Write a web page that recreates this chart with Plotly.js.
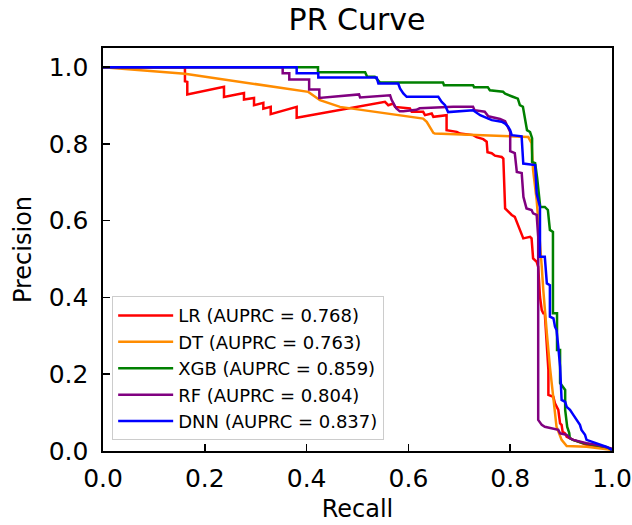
<!DOCTYPE html>
<html>
<head>
<meta charset="utf-8">
<script src="https://cdn.plot.ly/plotly-3.0.1.min.js"></script>
<style>html,body{margin:0;padding:0;background:#fff;}#chart{width:632px;height:525px;}</style>
</head>
<body>
<div id="chart"></div>
<script>
// Series names and labels
const seriesNames = ["LR (AUPRC = 0.768)", "DT (AUPRC = 0.763)", "XGB (AUPRC = 0.859)", "RF (AUPRC = 0.804)", "DNN (AUPRC = 0.837)"];
const seriesColors = ["#ff0000", "#ff8c00", "#008000", "#800080", "#0000ff"];
const tickValues = [0.0, 0.2, 0.4, 0.6, 0.8, 1.0];

// LR
const lrRecall = [0,0.161,0.161,0.1656,0.1656,0.2377,0.2377,0.277,0.277,0.2967,0.2967,0.315,0.315,0.3295,0.3295,0.3805,0.3805,0.505,0.554,0.5605,0.570,0.5737,0.603,0.6065,0.629,0.6326,0.6458,0.649,0.675,0.675,0.695,0.7014,0.7275,0.734,0.747,0.7538,0.7554,0.7637,0.770,0.7833,0.7865,0.790,0.796,0.803,0.809,0.8127,0.816,0.819,0.8226,0.8257,0.839,0.842,0.845,0.852,0.855,0.8585,0.862,0.865,0.868,0.872,0.875,0.875,0.8847,0.888,0.8945,0.898,0.901,0.903,0.9077,0.911,0.924,0.950,0.976,1.0];
const lrPrecision = [1,1,0.9635,0.9617,0.9289,0.9487,0.9227,0.933,0.916,0.920,0.901,0.907,0.892,0.8966,0.8776,0.8966,0.868,0.899,0.9096,0.901,0.9055,0.8966,0.8924,0.8836,0.8836,0.875,0.8794,0.8706,0.875,0.836,0.8315,0.827,0.823,0.8177,0.8125,0.806,0.7786,0.776,0.7695,0.766,0.762,0.632,0.623,0.615,0.610,0.597,0.5885,0.5755,0.5625,0.554,0.558,0.554,0.502,0.493,0.480,0.402,0.367,0.3586,0.3586,0.2805,0.211,0.146,0.1414,0.124,0.107,0.072,0.068,0.050,0.046,0.037,0.029,0.016,0.011,0.004];

// DT
const dtRecall = [0,0.161,0.4034,0.4263,0.4656,0.629,0.636,0.649,0.652,0.793,0.8356,0.842,0.845,0.852,0.8585,0.862,0.865,0.868,0.872,0.878,0.885,0.891,0.901,0.911,0.950,0.976,1.0];
const dtPrecision = [1,0.983,0.9357,0.914,0.8966,0.866,0.8576,0.829,0.827,0.821,0.818,0.802,0.732,0.654,0.549,0.480,0.419,0.367,0.3065,0.2195,0.133,0.063,0.029,0.013,0.011,0.007,0.003];

// XGB
const xgbRecall = [0,0.4224,0.4224,0.515,0.519,0.534,0.5445,0.668,0.670,0.727,0.729,0.756,0.760,0.786,0.790,0.796,0.805,0.815,0.819,0.825,0.829,0.833,0.839,0.843,0.843,0.849,0.853,0.859,0.868,0.874,0.878,0.884,0.884,0.892,0.892,0.898,0.898,0.904,0.908,0.908,0.912,0.916,0.917,0.923,0.943,0.990,1.0];
const xgbPrecision = [1,1,0.987,0.987,0.975,0.975,0.960,0.960,0.953,0.953,0.948,0.948,0.940,0.936,0.931,0.927,0.923,0.918,0.901,0.897,0.871,0.836,0.831,0.815,0.753,0.750,0.711,0.636,0.636,0.628,0.576,0.571,0.359,0.359,0.263,0.263,0.177,0.167,0.159,0.107,0.0625,0.047,0.034,0.029,0.021,0.010,0.003];

// RF
const rfRecall = [0,0.353,0.353,0.366,0.366,0.405,0.405,0.425,0.425,0.503,0.505,0.564,0.567,0.572,0.576,0.583,0.590,0.616,0.622,0.688,0.727,0.730,0.750,0.757,0.780,0.790,0.796,0.800,0.800,0.809,0.813,0.8226,0.826,0.832,0.842,0.845,0.852,0.855,0.855,0.862,0.868,0.885,0.8945,0.898,0.911,0.9175,0.924,0.950,0.970,0.998,1.0];
const rfPrecision = [1,1,0.984,0.984,0.968,0.968,0.942,0.942,0.920,0.929,0.921,0.927,0.915,0.902,0.893,0.885,0.885,0.889,0.893,0.897,0.897,0.888,0.884,0.872,0.865,0.859,0.841,0.831,0.781,0.776,0.727,0.724,0.662,0.632,0.628,0.619,0.615,0.558,0.081,0.068,0.063,0.059,0.055,0.046,0.042,0.033,0.029,0.020,0.016,0.007,0.003];

// DNN
const dnnRecall = [0,0.3805,0.3805,0.423,0.423,0.5377,0.541,0.580,0.5835,0.590,0.5966,0.6587,0.6654,0.672,0.675,0.678,0.727,0.741,0.757,0.764,0.783,0.790,0.796,0.800,0.803,0.8224,0.8257,0.849,0.852,0.8585,0.8585,0.868,0.872,0.878,0.878,0.885,0.888,0.891,0.8945,0.898,0.901,0.908,0.911,0.9175,0.924,0.9306,0.937,0.940,0.947,0.950,0.960,0.970,0.976,0.9895,1.0];
const dnnPrecision = [1,1,0.984,0.984,0.973,0.973,0.9575,0.9575,0.9445,0.9315,0.9227,0.9227,0.9096,0.901,0.892,0.883,0.888,0.875,0.866,0.862,0.858,0.853,0.845,0.836,0.823,0.820,0.749,0.745,0.671,0.636,0.506,0.506,0.4367,0.432,0.350,0.3456,0.324,0.315,0.2716,0.2195,0.133,0.128,0.115,0.107,0.094,0.081,0.068,0.055,0.042,0.029,0.024,0.020,0.016,0.011,0.003];

const xs = [lrRecall, dtRecall, xgbRecall, rfRecall, dnnRecall];
const ys = [lrPrecision, dtPrecision, xgbPrecision, rfPrecision, dnnPrecision];

const FONT = "DejaVu Sans, Verdana, sans-serif";
const traces = seriesNames.map((n, i) => ({
  type: "scatter", mode: "lines", name: n, x: xs[i], y: ys[i],
  line: {color: seriesColors[i], width: 2.5},
  legendgroup: "g" + i
}));

const axisCommon = {
  showgrid: false, zeroline: false, showline: true, mirror: true,
  linecolor: "#000", linewidth: 1.6, ticks: "inside", ticklen: 7, tickwidth: 1.5,
  tickcolor: "#000", tickvals: tickValues, tickformat: ".1f",
  tickfont: {family: FONT, size: 25, color: "#000"}
};

const layout = {
  width: 632, height: 525,
  margin: {l: 103, r: 20, t: 48, b: 74},
  paper_bgcolor: "#fff", plot_bgcolor: "#fff",
  font: {family: FONT, color: "#000"},
  title: {text: "PR Curve", font: {family: FONT, size: 30, color: "#000"}, x: 0.565, xanchor: "center", y: 0.962, yanchor: "middle"},
  xaxis: Object.assign({}, axisCommon, {range: [0, 1], title: {text: "Recall", font: {family: FONT, size: 24}, standoff: 8}, ticklabelstandoff: 4}),
  yaxis: Object.assign({}, axisCommon, {range: [0, 1.05], title: {text: "Precision", font: {family: FONT, size: 24}, standoff: 10}, ticklabelstandoff: 8}),
  showlegend: true,
  legend: {
    x: 0.018, y: 0.384, xanchor: "left", yanchor: "top",
    bgcolor: "rgba(255,255,255,0.85)", bordercolor: "#cccccc", borderwidth: 1,
    font: {family: FONT, size: 18, color: "#000"},
    tracegroupgap: 6.5, traceorder: "normal", itemwidth: 55
  }
};

Plotly.newPlot("chart", traces, layout, {displayModeBar: false, staticPlot: true});
</script>
</body>
</html>
